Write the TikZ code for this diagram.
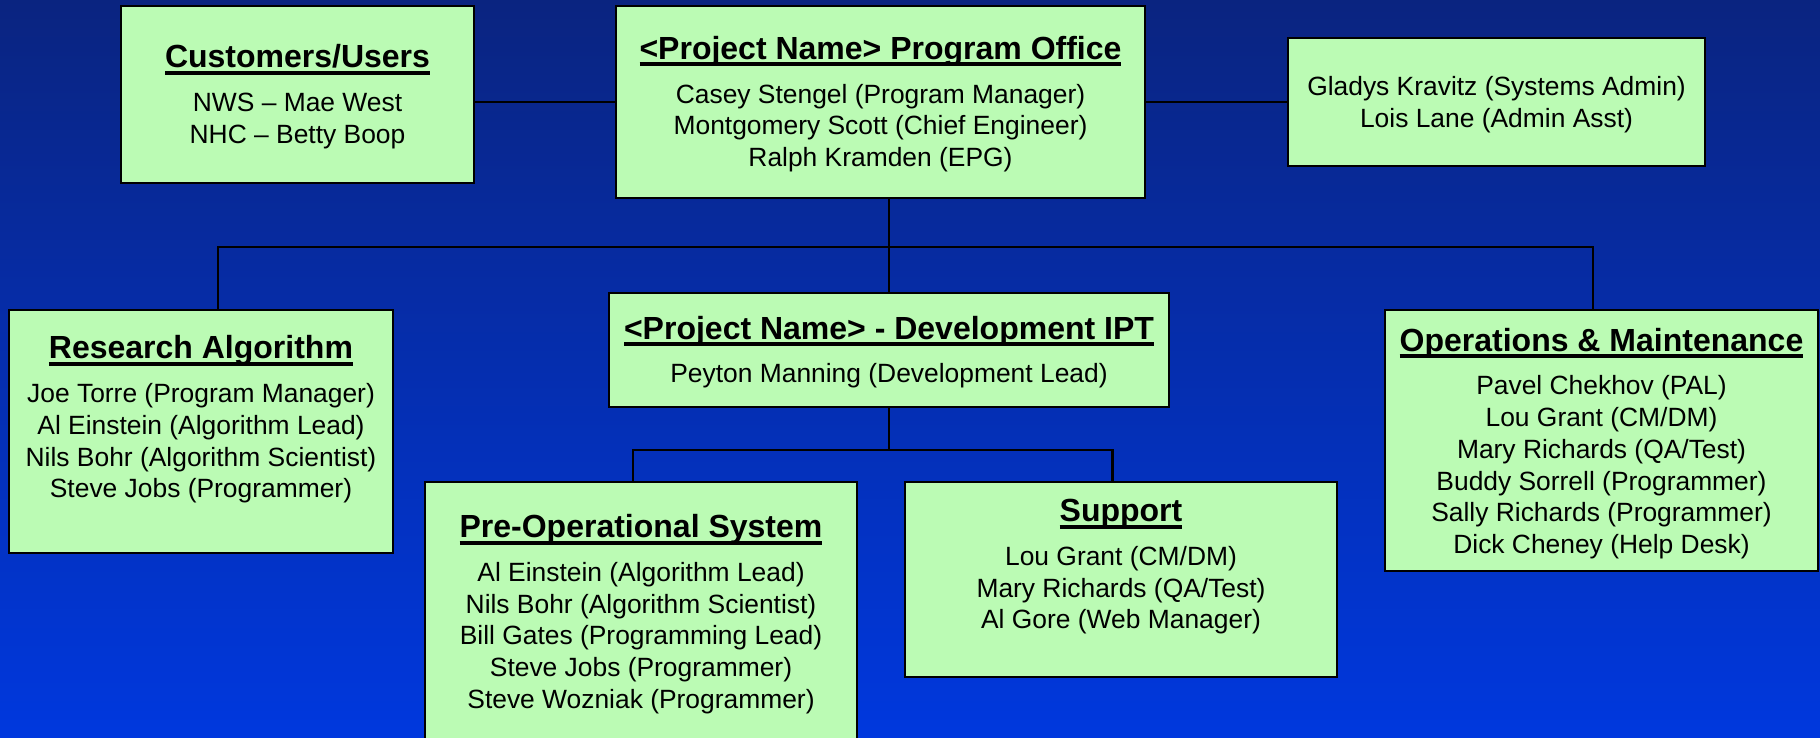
\documentclass[tikz,border=0pt]{standalone}
\usepackage{fontspec}
\setmainfont{Liberation Sans}

\definecolor{boxgreen}{RGB}{187,251,180}
\definecolor{bgtop}{RGB}{10,36,128}
\definecolor{bgbottom}{RGB}{0,56,222}

\newlength\titlewd
\newcommand{\boxtitle}[1]{{\fontsize{16}{19}\selectfont\bfseries\settowidth{\titlewd}{#1}#1\llap{\rule[-3.5pt]{\titlewd}{2pt}}}}

\begin{document}
\begin{tikzpicture}[x=0.5pt, y=-0.5pt,
    orgbox/.style={rectangle, draw=black, line width=1pt, fill=boxgreen, inner sep=0pt},
    txt/.style={align=center, inner sep=0pt, font=\fontsize{13.2}{15.85}\selectfont},
    conn/.style={line width=1.2pt}]
    \useasboundingbox (0,0) rectangle (1820,738);
    \clip (0,0) rectangle (1820,738);
    \fill[top color=bgtop, bottom color=bgbottom] (0,0) rectangle (1820,738);

    % boxes
    \node[orgbox, minimum width=176.5pt, minimum height=88.5pt] (cust) at (297.5,94.5) {};
    \node[orgbox, minimum width=264.5pt, minimum height=96pt] (po) at (880.5,102) {};
    \node[orgbox, minimum width=208.5pt, minimum height=64pt] (admin) at (1496.5,102) {};
    \node[orgbox, minimum width=192pt, minimum height=121.5pt] (res) at (201,431.5) {};
    \node[orgbox, minimum width=280pt, minimum height=57pt] (dev) at (889,350) {};
    \node[orgbox, minimum width=216pt, minimum height=132pt] (pre) at (641,614) {};
    \node[orgbox, minimum width=216pt, minimum height=97.5pt] (sup) at (1121,579.5) {};
    \node[orgbox, minimum width=216.5pt, minimum height=130.5pt] (om) at (1601.5,440.5) {};

    % texts
    \node[txt] (cust-t) at ([shift={(0,2)}]cust.center)
        {\boxtitle{Customers/Users}\\[6pt] NWS -- Mae West\\ NHC -- Betty Boop};
    \node[txt] (po-t) at ([shift={(0,2)}]po.center)
        {\boxtitle{<Project Name> Program Office}\\[6pt] Casey Stengel (Program Manager)\\
         Montgomery Scott (Chief Engineer)\\ Ralph Kramden (EPG)};
    \node[txt] (admin-t) at ([shift={(0,2.5)}]admin.center)
        {Gladys Kravitz (Systems Admin)\\ Lois Lane (Admin Asst)};
    \node[txt] (res-t) at ([shift={(0,-12)}]res.center)
        {\boxtitle{Research Algorithm}\\[6pt] Joe Torre (Program Manager)\\ Al Einstein (Algorithm Lead)\\
         Nils Bohr (Algorithm Scientist)\\ Steve Jobs (Programmer)};
    \node[txt] (dev-t) at ([shift={(0,2)}]dev.center)
        {\boxtitle{<Project Name> - Development IPT}\\[6pt] Peyton Manning (Development Lead)};
    \node[txt] (pre-t) at (pre.center)
        {\boxtitle{Pre-Operational System}\\[6pt] Al Einstein (Algorithm Lead)\\ Nils Bohr (Algorithm Scientist)\\
         Bill Gates (Programming Lead)\\ Steve Jobs (Programmer)\\ Steve Wozniak (Programmer)};
    \node[txt] (sup-t) at ([shift={(0,-12.5)}]sup.center)
        {\boxtitle{Support}\\[6pt] Lou Grant (CM/DM)\\ Mary Richards (QA/Test)\\ Al Gore (Web Manager)};
    \node[txt] (om-t) at ([shift={(0,3)}]om.center)
        {\boxtitle{Operations \& Maintenance}\\[6pt] Pavel Chekhov (PAL)\\ Lou Grant (CM/DM)\\
         Mary Richards (QA/Test)\\ Buddy Sorrell (Programmer)\\ Sally Richards (Programmer)\\ Dick Cheney (Help Desk)};

    % connectors
    \coordinate (resdrop) at (218,247);
    \coordinate (omdrop) at (1593,247);
    \coordinate (predrop) at (633,450);
    \coordinate (supdrop) at (1112.5,450);
    \draw[conn] (po.west) -- (po.west -| cust.east);
    \draw[conn] (po.east) -- (admin.west);
    \draw[conn] (po.south -| dev.north) -- (dev.north);
    \draw[conn] (res.north -| resdrop) -- (resdrop) -- (omdrop) -- (om.north -| omdrop);
    \draw[conn] (dev.south) -- (dev.south |- predrop);
    \draw[conn] (pre.north -| predrop) -- (predrop) -- (supdrop) -- (sup.north -| supdrop);
\end{tikzpicture}
\end{document}
